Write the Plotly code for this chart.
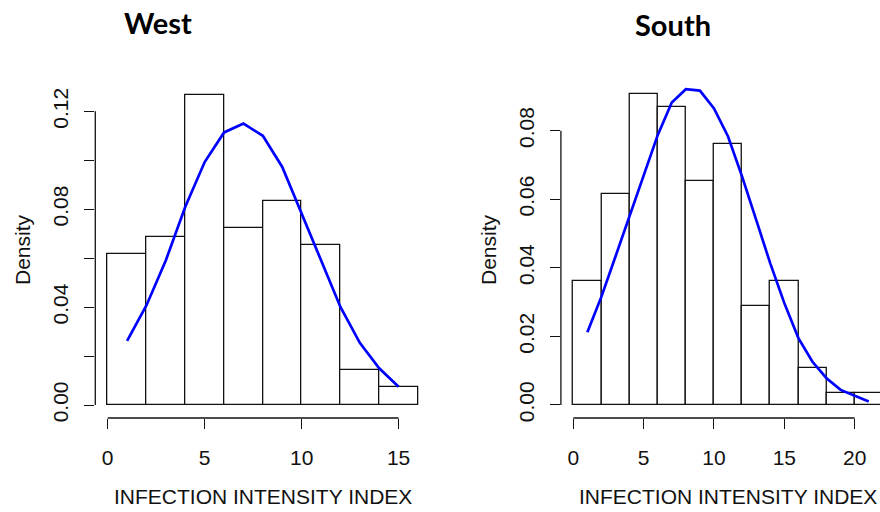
import plotly.graph_objects as go

# ---------------- data ----------------
west_bin_start = [0, 2, 4, 6, 8, 10, 12, 14]
west_density = [0.0616, 0.0688, 0.1268, 0.0725, 0.0833, 0.0652, 0.0145, 0.0072]
west_curve_x = [1, 2, 3, 4, 5, 6, 7, 8, 9, 10, 11, 12, 13, 14, 15]
west_curve_y = [0.0262, 0.0408, 0.0592, 0.0810, 0.0993, 0.1114, 0.1150, 0.1100,
                0.0973, 0.0782, 0.0590, 0.0401, 0.0254, 0.0150, 0.0075]

south_bin_start = [0, 2, 4, 6, 8, 10, 12, 14, 16, 18, 20]
south_density = [0.0362, 0.0616, 0.0906, 0.0870, 0.0652, 0.0761, 0.0290, 0.0362,
                  0.0109, 0.0036, 0.0036]
south_curve_x = [1, 2, 3, 4, 5, 6, 7, 8, 9, 10, 11, 12, 13, 14, 15, 16, 17, 18, 19, 20, 21]
south_curve_y = [0.0212, 0.0316, 0.0433, 0.0549, 0.0671, 0.0787, 0.0882, 0.0921,
                 0.0917, 0.0865, 0.0783, 0.0666, 0.0540, 0.0413, 0.0297, 0.0195,
                 0.0126, 0.0078, 0.0044, 0.0026, 0.0010]

bin_width = 2
west_xticks = [0, 5, 10, 15]
west_yticks = [0.0, 0.02, 0.04, 0.06, 0.08, 0.10, 0.12]
west_ytext = ["0.00", "", "0.04", "", "0.08", "", "0.12"]
south_xticks = [0, 5, 10, 15, 20]
south_yticks = [0.0, 0.02, 0.04, 0.06, 0.08]
south_ytext = ["0.00", "0.02", "0.04", "0.06", "0.08"]

titles = ["West", "South"]
x_title = "INFECTION INTENSITY INDEX"
y_title = "Density"

# ---------------- layout geometry (pixels) ----------------
W, H = 880, 512
def px_x(p):
    return p / W
def px_y(p):
    return 1 - p / H

TOP, BOTTOM = 82, 418
west_dom = [px_x(95.3), px_x(430.4)]
south_dom = [px_x(560.9), 1.0]
ydom = [px_y(BOTTOM), px_y(TOP)]

FONT = "Liberation Sans, Arial, sans-serif"
INK = "#111111"

fig = go.Figure()

bar_style = dict(marker=dict(color="white", line=dict(color=INK, width=1.3)),
                 width=bin_width, offset=0, showlegend=False, hoverinfo="skip")
line_style = dict(mode="lines", line=dict(color="#0000FF", width=2.7),
                  showlegend=False, hoverinfo="skip")

fig.add_trace(go.Bar(x=west_bin_start, y=west_density, xaxis="x", yaxis="y", **bar_style))
fig.add_trace(go.Scatter(x=west_curve_x, y=west_curve_y, xaxis="x", yaxis="y", **line_style))
fig.add_trace(go.Bar(x=south_bin_start, y=south_density, xaxis="x2", yaxis="y2", **bar_style))
fig.add_trace(go.Scatter(x=south_curve_x, y=south_curve_y, xaxis="x2", yaxis="y2", **line_style))

axis_common = dict(showgrid=False, zeroline=False, showline=False, ticks="outside",
                   ticklen=10, tickwidth=1.3, tickcolor=INK, automargin=False,
                   tickfont=dict(family=FONT, size=21, color=INK), fixedrange=True)

fig.update_layout(
    width=W, height=H,
    margin=dict(l=0, r=0, t=0, b=0, pad=0),
    paper_bgcolor="white", plot_bgcolor="white",
    template="none",
    bargap=0,
    xaxis=dict(domain=west_dom, range=[-0.64, 16.64], tickmode="array",
               tickvals=west_xticks, ticktext=[str(v) for v in west_xticks],
               anchor="y", ticklabelstandoff=11, **axis_common),
    yaxis=dict(domain=ydom, range=[-0.0053, 0.132], tickmode="array",
               tickvals=west_yticks, ticktext=west_ytext, tickangle=-90,
               anchor="x", ticklabelstandoff=8, **axis_common),
    xaxis2=dict(domain=south_dom, range=[-0.88, 21.8], tickmode="array",
                tickvals=south_xticks, ticktext=[str(v) for v in south_xticks],
                anchor="y2", ticklabelstandoff=11, **axis_common),
    yaxis2=dict(domain=ydom, range=[-0.0038, 0.0942], tickmode="array",
                tickvals=south_yticks, ticktext=south_ytext, tickangle=-90,
                anchor="x2", ticklabelstandoff=8, **axis_common),
)

# R-style axis lines spanning first to last tick
shapes = []
for xr, yr, xt, yt in [("x", "y", west_xticks, west_yticks),
                       ("x2", "y2", south_xticks, south_yticks)]:
    shapes.append(dict(type="line", xref=xr, yref=f"{yr} domain",
                       x0=xt[0], x1=xt[-1], y0=0, y1=0,
                       line=dict(color=INK, width=1.3)))
    shapes.append(dict(type="line", xref=f"{xr} domain", yref=yr,
                       x0=0, x1=0, y0=yt[0], y1=yt[-1],
                       line=dict(color=INK, width=1.3)))
fig.update_layout(shapes=shapes)

annotations = []
# panel titles
for t, cx, cy in [(titles[0], 157.7, 22), (titles[1], 672.5, 24)]:
    annotations.append(dict(text=f"<b>{t}</b>", x=px_x(cx), y=px_y(cy), xref="paper", yref="paper",
                            showarrow=False, xanchor="center", yanchor="middle",
                            font=dict(family="Lato, sans-serif", size=29, color="black")))
# x axis titles
for cx in [262.9, 727.5]:
    annotations.append(dict(text=x_title, x=px_x(cx), y=px_y(496.7), xref="paper", yref="paper",
                            showarrow=False, xanchor="center", yanchor="middle",
                            font=dict(family=FONT, size=21, color=INK)))
# y axis titles
for cx in [22, 488]:
    annotations.append(dict(text=y_title, x=px_x(cx), y=px_y(250), xref="paper", yref="paper",
                            showarrow=False, xanchor="center", yanchor="middle", textangle=-90,
                            font=dict(family=FONT, size=21, color=INK)))
fig.update_layout(annotations=annotations)

fig.write_html("out.html", config={"displayModeBar": False})
